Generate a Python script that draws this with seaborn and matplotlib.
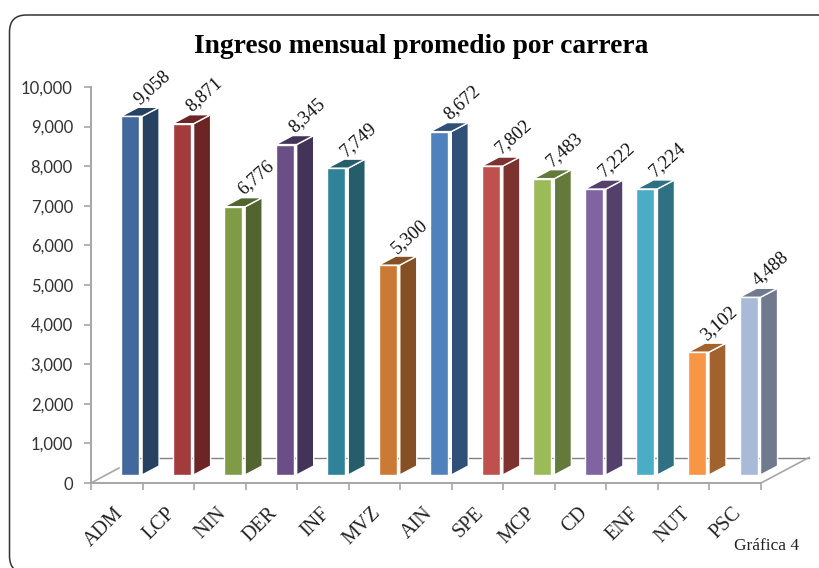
import matplotlib
matplotlib.use('Agg')
import matplotlib.pyplot as plt
import seaborn as sns
from matplotlib.patches import FancyBboxPatch, Polygon
from matplotlib.transforms import IdentityTransform, ScaledTranslation

carreras = ['ADM', 'LCP', 'NIN', 'DER', 'INF', 'MVZ', 'AIN', 'SPE', 'MCP', 'CD', 'ENF', 'NUT', 'PSC']
ingresos = [9058, 8871, 6776, 8345, 7749, 5300, 8672, 7802, 7483, 7222, 7224, 3102, 4488]
y_ticks = [0, 1000, 2000, 3000, 4000, 5000, 6000, 7000, 8000, 9000, 10000]

colores_frente = ['#41699e', '#a23b3b', '#7f9b45', '#6a4f87', '#2f8298', '#cb7a35', '#4f81bd',
                  '#c0504d', '#9bbb59', '#8064a2', '#4bacc6', '#f79646', '#a9b9d8']
colores_lado = ['#274261', '#6b2525', '#526430', '#433358', '#255d6b', '#855024', '#2f5077',
                '#7e3230', '#647a3a', '#54416b', '#2f7082', '#a2622e', '#6f7a8e']

W, H = 819, 568
# pixeles del area de ejes
X0, X1, Y0, Y1 = 91, 761, 483, 87
PX_X = 13 / (X1 - X0)      # unidades de categoria por pixel
PX_Y = 10000 / (Y0 - Y1)   # unidades de valor por pixel

plt.rcParams['font.family'] = ['Liberation Serif', 'DejaVu Serif']

fig = plt.figure(figsize=(W / 100, H / 100), dpi=100, facecolor='white')
ax = fig.add_axes([X0 / W, 1 - Y0 / H, (X1 - X0) / W, (Y0 - Y1) / H])
ax.patch.set_visible(False)

# marco redondeado, en pixeles de la figura
marco = FancyBboxPatch((9.5, -5), 850, H - 15 + 5, boxstyle='round,pad=0.0,rounding_size=17',
                       transform=IdentityTransform(), fc='white', ec='#333333', lw=1.1, zorder=-5)
fig.add_artist(marco)

base = 8 * PX_Y
desp = 13.3 * PX_X
sns.barplot(x=carreras, y=ingresos, hue=carreras, palette=colores_frente, legend=False, saturation=1,
            width=18 * PX_X, bottom=base, edgecolor='white', linewidth=1, ax=ax, zorder=3)

prof_x = 17 * PX_X
prof_y = 9 * PX_Y
sep = 3 * PX_X
for barra, valor, lado in zip(ax.patches, ingresos, colores_lado):
    barra.set_x(barra.get_x() + desp)
    xa = barra.get_x()
    xb = xa + barra.get_width()
    tope = valor + base
    # cara lateral
    ax.add_patch(Polygon([(xb + sep, base), (xb + sep + prof_x, base + prof_y),
                          (xb + sep + prof_x, tope + prof_y), (xb + sep, tope)],
                         fc=lado, ec='white', lw=1, clip_on=False, zorder=3))
    # cara superior
    ax.add_patch(Polygon([(xa, tope), (xa + prof_x, tope + prof_y),
                          (xb + sep + prof_x, tope + prof_y), (xb + sep, tope)],
                         fc=lado, ec='white', lw=1, clip_on=False, zorder=3))
    ax.annotate(f'{valor:,}', (xa + barra.get_width() / 2, tope), xytext=(16, 21),
                textcoords='offset points', ha='center', va='center', rotation=42,
                rotation_mode='anchor', fontsize=13.5, color='#111111', annotation_clip=False)

# piso en perspectiva
piso_x = 48 * PX_X
piso_y = 25.5 * PX_Y
x_izq, x_der = -0.5, 12.5
ax.plot([x_izq, x_izq + 28 * PX_X], [0, 15 * PX_Y], color='#a6a6a6', lw=1.2, clip_on=False, zorder=1)
ax.plot([x_izq + piso_x, x_der + piso_x], [piso_y, piso_y], color='#808080', lw=1, clip_on=False, zorder=1)
ax.plot([x_der, x_der + piso_x], [0, piso_y], color='#a6a6a6', lw=1.2, clip_on=False, zorder=1)

ax.set_xlim(x_izq, x_der)
ax.set_ylim(0, 10000)
ax.set_yticks(y_ticks)
ax.set_yticklabels([f'{t:,}' for t in y_ticks], family='Lato', fontsize=12, color='#333333')
ax.set_xticks(range(len(carreras)))
ax.set_xticklabels(carreras, rotation=45, ha='right', rotation_mode='anchor',
                   fontsize=14.5, color='#222222')
ax.set_xticks([i - 0.5 for i in range(len(carreras) + 1)], minor=True)
ax.tick_params(axis='x', which='major', length=0, pad=15)
ax.tick_params(axis='x', which='minor', length=5, width=1.2, color='#a6a6a6')
ax.tick_params(axis='y', length=5, width=1.2, color='#a6a6a6', pad=8)
ax.set_xlabel('')
ax.set_ylabel('')
corrimiento = ScaledTranslation(-3 / 100, 0, fig.dpi_scale_trans)
for etiqueta in ax.get_xticklabels():
    etiqueta.set_transform(etiqueta.get_transform() + corrimiento)

sns.despine(ax=ax)
for lado in ['left', 'bottom']:
    ax.spines[lado].set_color('#a6a6a6')
    ax.spines[lado].set_linewidth(1.4)

fig.text(421 / W, 1 - 46.5 / H, 'Ingreso mensual promedio por carrera', ha='center', va='center',
         fontsize=19.8, fontweight='bold', color='black')
fig.text(767 / W, 1 - 546 / H, 'Gráfica 4', ha='center', va='center', fontsize=12.5, color='#222222')

fig.savefig('out.png', dpi=100)
